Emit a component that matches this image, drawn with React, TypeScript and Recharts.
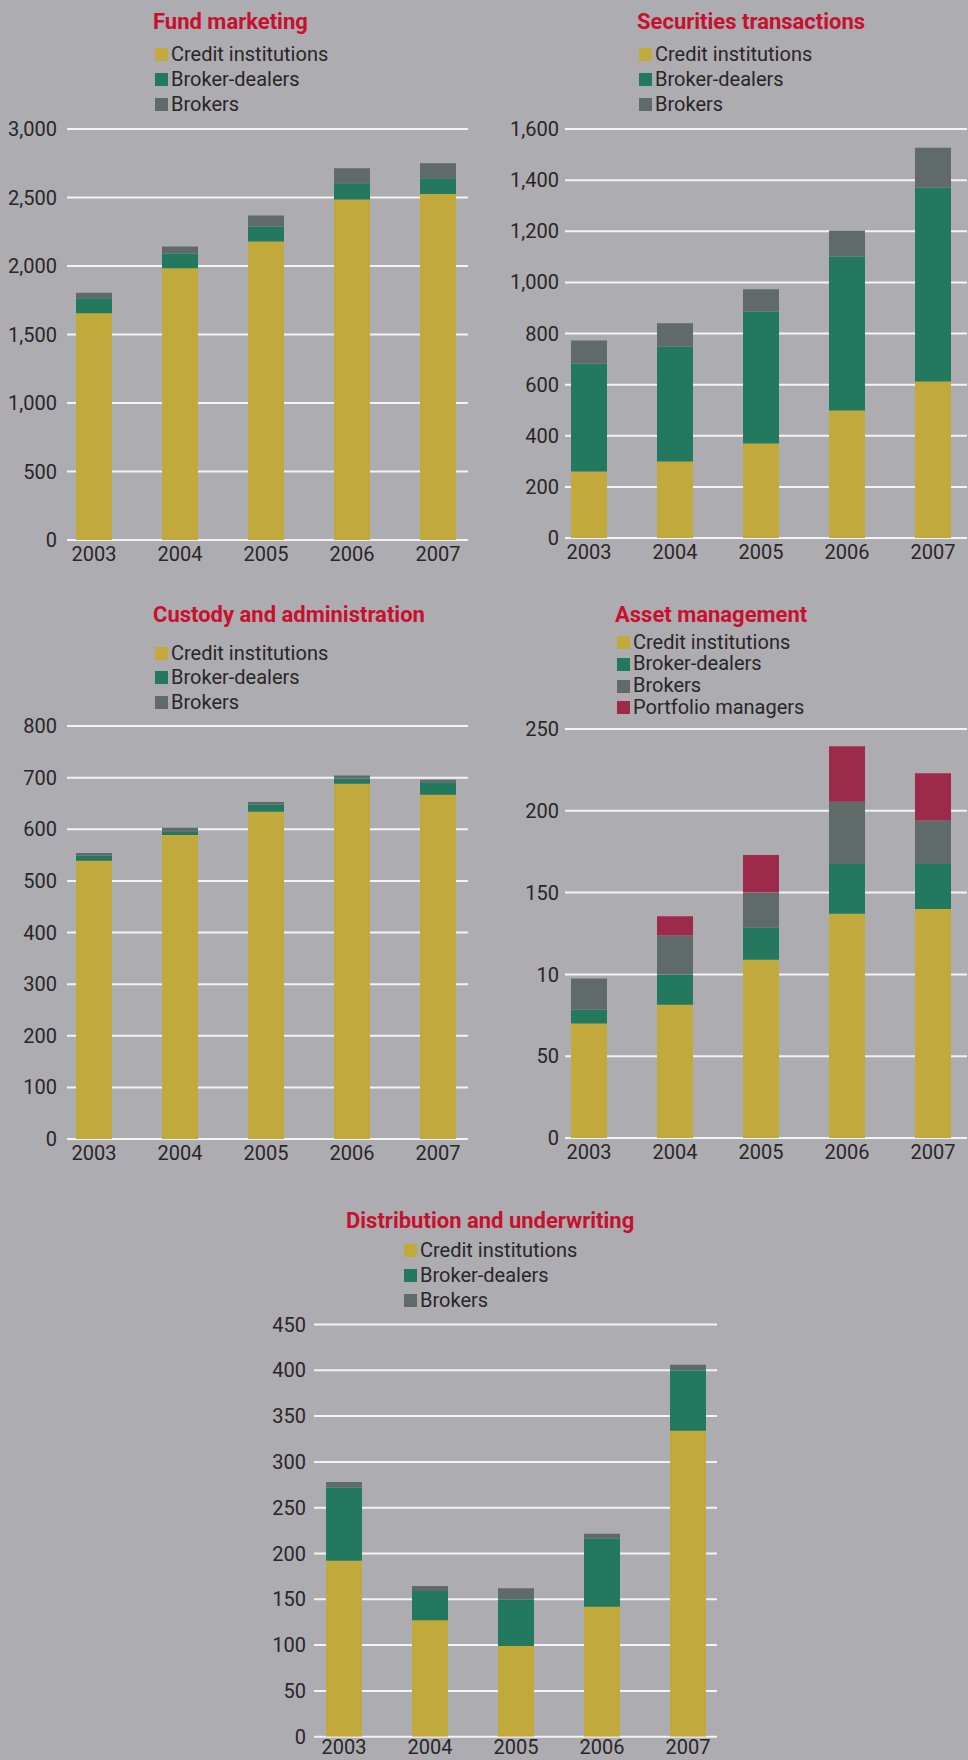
import React from 'react';
import { BarChart, Bar, XAxis, YAxis, CartesianGrid } from 'recharts';

const years = ['2003', '2004', '2005', '2006', '2007'];

const seriesNames = ['Credit institutions', 'Broker-dealers', 'Brokers', 'Portfolio managers'];
const seriesColors = ['#c1a93c', '#22795d', '#5f6a69', '#9e2a4b'];

// Fund marketing
const fundCredit = [1655, 1983, 2178, 2486, 2525];
const fundBrokerDealers = [110, 109, 110, 118, 115];
const fundBrokers = [40, 50, 81, 109, 110];
const fundTicks = [0, 500, 1000, 1500, 2000, 2500, 3000];
const fundTickLabels = ['0', '500', '1,000', '1,500', '2,000', '2,500', '3,000'];

// Securities transactions
const secCredit = [260, 299, 370, 499, 612];
const secBrokerDealers = [423, 450, 516, 602, 759];
const secBrokers = [90, 91, 87, 102, 156];
const secTicks = [0, 200, 400, 600, 800, 1000, 1200, 1400, 1600];
const secTickLabels = ['0', '200', '400', '600', '800', '1,000', '1,200', '1,400', '1,600'];

// Custody and administration
const custCredit = [539, 589, 634, 688, 667];
const custBrokerDealers = [10, 7, 14, 10, 24];
const custBrokers = [5, 7, 5, 6, 5];
const custTicks = [0, 100, 200, 300, 400, 500, 600, 700, 800];
const custTickLabels = ['0', '100', '200', '300', '400', '500', '600', '700', '800'];

// Asset management
const assetCredit = [70, 81.5, 109, 137, 140];
const assetBrokerDealers = [8.5, 18.5, 19.5, 30.5, 27.5];
const assetBrokers = [19, 24, 21.5, 38, 26.5];
const assetPortfolio = [0, 11.5, 23, 34, 29];
const assetTicks = [0, 50, 100, 150, 200, 250];
const assetTickLabels = ['0', '50', '10', '150', '200', '250'];

// Distribution and underwriting
const distCredit = [192, 127, 99, 142, 334];
const distBrokerDealers = [80, 32, 51, 74, 66];
const distBrokers = [6, 5.5, 12, 5.5, 6];
const distTicks = [0, 50, 100, 150, 200, 250, 300, 350, 400, 450];
const distTickLabels = ['0', '50', '100', '150', '200', '250', '300', '350', '400', '450'];

const FONT = 'Roboto, "Open Sans", sans-serif';
const TEXT = '#2a2627';
const TITLE = '#c8102e';
const BG = '#adacb1';

type Layout = {
  left: number; top: number; w: number; h: number;
  margin: { top: number; right: number; bottom: number; left: number };
  gridX: number; gridW: number; yTickMargin: number; xTickMargin: number;
  titleLeft: number; titleCY: number;
  legendLeft: number; legendCY: number; rowH: number;
};

function buildRows(series: number[][]) {
  return years.map((y, i) => {
    const row: Record<string, any> = { year: y };
    series.forEach((s, k) => { row['s' + k] = s[i]; });
    return row;
  });
}

function Panel(props: { title: string; series: number[][]; ticks: number[]; tickLabels: string[]; L: Layout }) {
  const { title, series, ticks, tickLabels, L } = props;
  const data = buildRows(series);
  const max = ticks[ticks.length - 1];
  const labelFor = (v: number) => {
    const idx = ticks.indexOf(v);
    return idx >= 0 ? tickLabels[idx] : String(v);
  };
  return (
    <div style={{ position: 'absolute', left: L.left, top: L.top, width: L.w, height: L.h }}>
      <div style={{ position: 'absolute', left: L.titleLeft, top: L.titleCY - 14, height: 28, lineHeight: '28px', fontSize: 22, fontWeight: 700, color: TITLE, whiteSpace: 'nowrap', fontFamily: FONT }}>
        {title}
      </div>
      <div style={{ position: 'absolute', left: L.legendLeft, top: L.legendCY - L.rowH / 2, fontFamily: FONT }}>
        {series.map((_, k) => (
          <div key={k} style={{ display: 'flex', alignItems: 'center', height: L.rowH, whiteSpace: 'nowrap' }}>
            <span style={{ display: 'inline-block', width: 13, height: 13, background: seriesColors[k], marginRight: 3 }} />
            <span style={{ fontSize: 20, color: TEXT, lineHeight: L.rowH + 'px' }}>{seriesNames[k]}</span>
          </div>
        ))}
      </div>
      <div style={{ position: 'absolute', left: 0, top: 0 }}>
        <BarChart width={L.w} height={L.h} data={data} margin={L.margin} barCategoryGap={0}>
          <CartesianGrid vertical={false} horizontal={true} stroke="#f3f3f3" strokeWidth={2} x={L.gridX} width={L.gridW} />
          <XAxis dataKey="year" axisLine={false} tickLine={false} tickSize={0} tickMargin={L.xTickMargin} height={20}
            tick={{ fill: TEXT, fontSize: 20, fontFamily: FONT }} interval={0} />
          <YAxis type="number" domain={[0, max]} ticks={ticks} axisLine={false} tickLine={false} tickSize={0}
            tickMargin={L.yTickMargin} width={40} tickFormatter={labelFor} interval={0}
            tick={{ fill: TEXT, fontSize: 20, fontFamily: FONT }} allowDataOverflow />
          {series.map((_, k) => (
            <Bar key={k} dataKey={'s' + k} name={seriesNames[k]} stackId="a" fill={seriesColors[k]} barSize={36} isAnimationActive={false} />
          ))}
        </BarChart>
      </div>
    </div>
  );
}

const L1: Layout = { left: 0, top: 0, w: 484, h: 580, margin: { top: 129, right: 3, bottom: 20, left: 11 }, gridX: 67, gridW: 401, yTickMargin: -6, xTickMargin: 7, titleLeft: 153, titleCY: 22, legendLeft: 155, legendCY: 54, rowH: 25 };
const L2: Layout = { left: 484, top: 0, w: 500, h: 580, margin: { top: 129, right: 8, bottom: 22, left: 22 }, gridX: 81, gridW: 402, yTickMargin: -13, xTickMargin: 7, titleLeft: 153, titleCY: 22, legendLeft: 155, legendCY: 54, rowH: 25 };
const L3: Layout = { left: 0, top: 590, w: 484, h: 580, margin: { top: 136, right: 3, bottom: 11, left: 11 }, gridX: 67, gridW: 401, yTickMargin: -6, xTickMargin: 7, titleLeft: 153, titleCY: 25, legendLeft: 155, legendCY: 63, rowH: 24.5 };
const L4: Layout = { left: 484, top: 590, w: 500, h: 580, margin: { top: 139, right: 8, bottom: 12, left: 22 }, gridX: 81, gridW: 402, yTickMargin: -13, xTickMargin: 7, titleLeft: 131, titleCY: 25, legendLeft: 133, legendCY: 52.5, rowH: 21.8 };
const L5: Layout = { left: 230, top: 1160, w: 520, h: 600, margin: { top: 164.5, right: 19, bottom: 3.3, left: 31 }, gridX: 84, gridW: 403, yTickMargin: -5, xTickMargin: 3, titleLeft: 116, titleCY: 61, legendLeft: 174, legendCY: 90, rowH: 25 };

export default function App() {
  return (
    <div style={{ position: 'absolute', left: 0, top: 0, width: 968, height: 1760, background: BG, overflow: 'hidden', fontFamily: FONT }}>
      <Panel title="Fund marketing" series={[fundCredit, fundBrokerDealers, fundBrokers]} ticks={fundTicks} tickLabels={fundTickLabels} L={L1} />
      <Panel title="Securities transactions" series={[secCredit, secBrokerDealers, secBrokers]} ticks={secTicks} tickLabels={secTickLabels} L={L2} />
      <Panel title="Custody and administration" series={[custCredit, custBrokerDealers, custBrokers]} ticks={custTicks} tickLabels={custTickLabels} L={L3} />
      <Panel title="Asset management" series={[assetCredit, assetBrokerDealers, assetBrokers, assetPortfolio]} ticks={assetTicks} tickLabels={assetTickLabels} L={L4} />
      <Panel title="Distribution and underwriting" series={[distCredit, distBrokerDealers, distBrokers]} ticks={distTicks} tickLabels={distTickLabels} L={L5} />
    </div>
  );
}
